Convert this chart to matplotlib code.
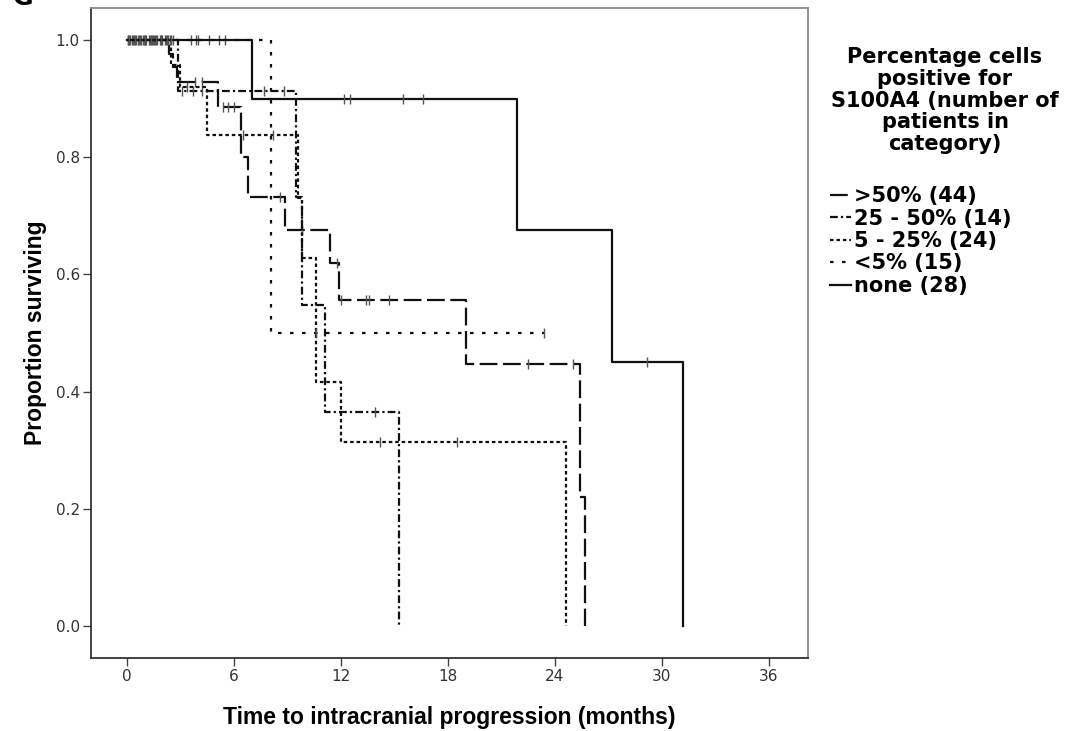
import matplotlib
matplotlib.use("Agg")
import matplotlib.pyplot as plt
import numpy as np

# survival step data (time in months, proportion surviving)
gt50_t = [0, 2.4, 2.6, 2.8, 5.1, 6.4, 6.8, 8.9, 11.4, 11.9, 19.0, 25.4, 25.7]
gt50_s = [1.0, 0.977, 0.955, 0.928, 0.886, 0.80, 0.733, 0.676, 0.62, 0.556, 0.447, 0.22, 0.0]
gt50_cens = [0.05, 0.2, 0.35, 0.5, 0.65, 0.8, 0.95, 1.1, 1.25, 1.4, 1.55, 1.7, 1.85,
             2.0, 2.15, 2.3, 3.85, 4.25, 5.4, 5.7, 6.0, 8.6, 9.85, 11.8, 12.0, 13.4,
             13.6, 14.7, 22.5, 25.0]

mid_t = [0, 2.9, 9.5, 9.85, 11.1, 15.25]
mid_s = [1.0, 0.913, 0.733, 0.548, 0.365, 0.0]
mid_cens = [0.3, 0.9, 1.6, 2.2, 3.1, 3.7, 4.2, 7.7, 8.8, 13.95]

low_t = [0, 2.5, 3.0, 4.5, 9.6, 9.85, 10.6, 12.0, 24.65]
low_s = [1.0, 0.958, 0.92, 0.838, 0.73, 0.628, 0.417, 0.314, 0.0]
low_cens = [0.1, 0.7, 1.3, 1.9, 3.4, 6.5, 8.2, 14.2, 18.5]

lt5_t = [0, 8.07, 23.4]
lt5_s = [1.0, 0.5, 0.5]
lt5_cens = [0.4, 1.0, 1.5, 2.45, 2.6, 3.6, 3.9, 4.0, 4.6, 5.2, 5.5, 10.6, 23.4]

none_t = [0, 7.05, 21.9, 27.2, 31.2]
none_s = [1.0, 0.9, 0.676, 0.45, 0.0]
none_cens = [0.15, 0.45, 0.75, 1.05, 1.35, 1.65, 1.95, 2.25, 2.5, 12.2, 12.5, 15.5, 16.6, 29.2]

labels = [">50% (44)", "25 - 50% (14)", "5 - 25% (24)", "<5% (15)", "none (28)"]
legend_title = "Percentage cells\npositive for\nS100A4 (number of\npatients in\ncategory)"

groups = [
    (gt50_t, gt50_s, gt50_cens, (0, (8, 2.5))),
    (mid_t, mid_s, mid_cens, (0, (3.5, 1.4, 1.0, 1.4))),
    (low_t, low_s, low_cens, (0, (1.6, 1.3))),
    (lt5_t, lt5_s, lt5_cens, (0, (1.6, 3.8))),
    (none_t, none_s, none_cens, "-"),
]

fig = plt.figure(figsize=(10.7, 7.31), dpi=100)
ax = fig.add_axes([91 / 1070, 1 - 658 / 731, 717 / 1070, 650 / 731])

handles = []
for (t, s, cens, ls), lab in zip(groups, labels):
    line, = ax.step(t, s, where="post", color="#111111", lw=1.6, linestyle=ls, label=lab)
    handles.append(line)
    # censored observations sit on the step curve
    idx = np.searchsorted(np.array(t), np.array(cens), side="right") - 1
    cy = np.array(s)[idx]
    ax.plot(cens, cy, linestyle="none", marker="|", markersize=7, markeredgewidth=1.0,
            color="#555555")

ax.set_xlim(-2.0, 38.2)
ax.set_ylim(-0.055, 1.055)
ax.set_xticks([0, 6, 12, 18, 24, 30, 36])
ax.set_yticks([0.0, 0.2, 0.4, 0.6, 0.8, 1.0])
ax.set_yticklabels(["0.0", "0.2", "0.4", "0.6", "0.8", "1.0"])
ax.tick_params(direction="out", length=6, width=1.0, color="#444444", labelcolor="#333333",
               labelsize=11, pad=2)
for side in ["left", "bottom"]:
    ax.spines[side].set_color("#333333")
    ax.spines[side].set_linewidth(1.3)
for side in ["top", "right"]:
    ax.spines[side].set_color("#8a8a8a")
    ax.spines[side].set_linewidth(1.3)

ax.set_xlabel("Time to intracranial progression (months)", fontsize=16.5, fontweight="bold",
              family="Liberation Sans", labelpad=16)
ax.set_ylabel("Proportion surviving", fontsize=16.5, fontweight="bold",
              family="Liberation Sans", labelpad=6)

fig.text(945 / 1070, 1 - 47 / 731, legend_title, ha="center", va="top", fontsize=15,
         fontweight="bold", family="DejaVu Sans", linespacing=1.11, multialignment="center")
fig.legend(handles=handles, loc="upper left", bbox_to_anchor=(830 / 1070, 1 - 186 / 731),
           frameon=False, prop={"family": "DejaVu Sans", "size": 15, "weight": "bold"},
           borderpad=0, borderaxespad=0, handlelength=1.0, handletextpad=0.15,
           labelspacing=0.12)

fig.text(0.012, 1 - 5 / 731, "G", fontsize=18, fontweight="bold", va="baseline")

fig.savefig("out.png", dpi=100)
